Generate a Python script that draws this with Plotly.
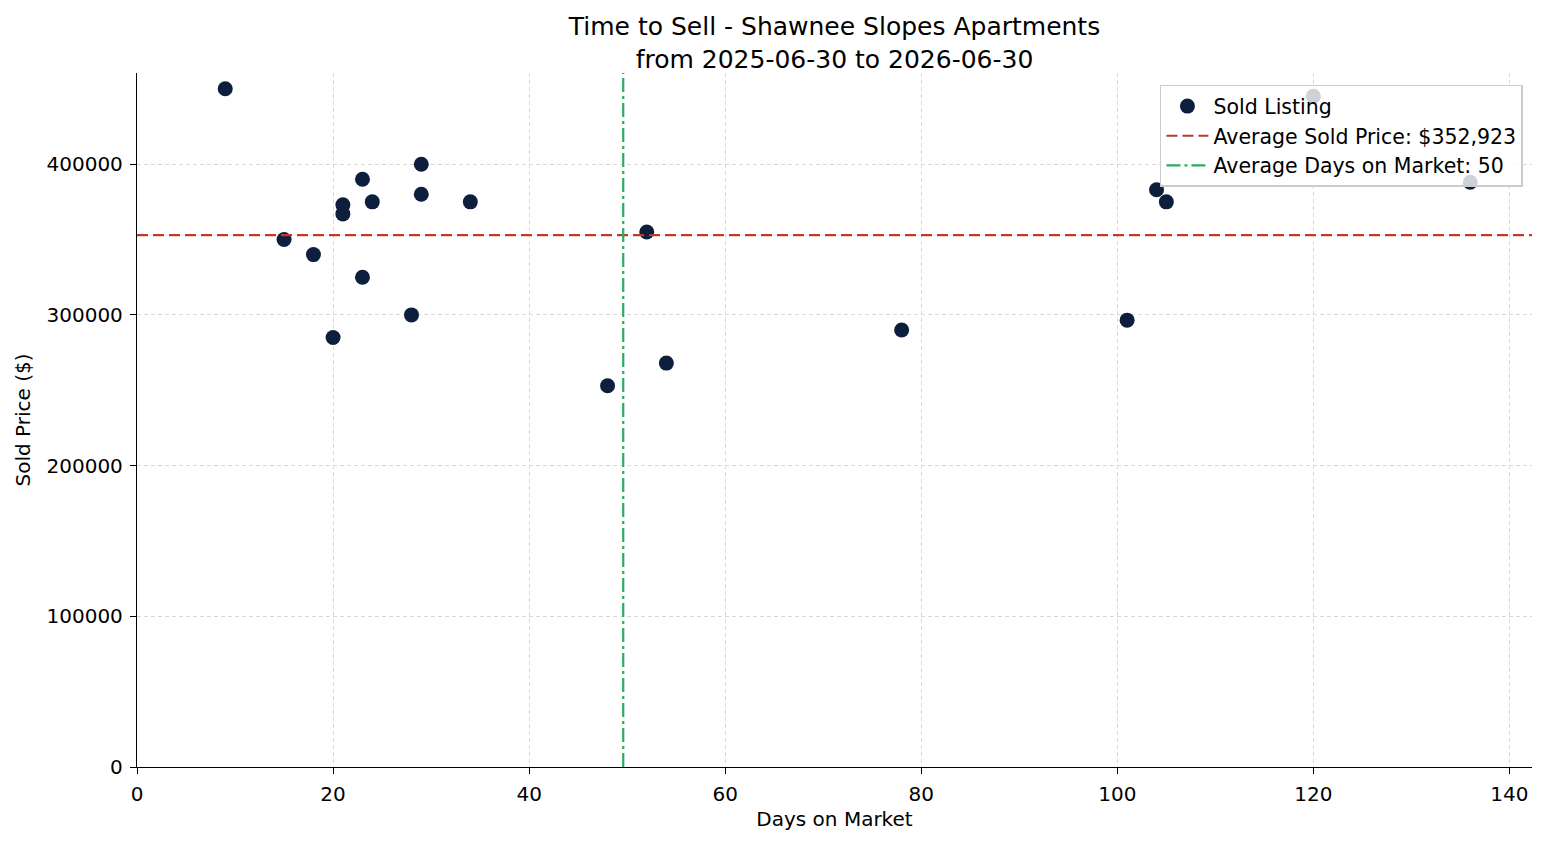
import plotly.graph_objects as go

days = [9, 15, 18, 20, 21, 21, 23, 23, 24, 28, 29, 29, 34, 48, 52, 54, 78, 101, 104, 105, 120, 136]
prices = [450000, 350000, 340000, 285000, 373000, 367000, 390000, 325000, 375000, 300000,
          400000, 380000, 375000, 253000, 355000, 268000, 290000, 296500, 383000, 375000,
          445000, 388000]
avg_price = 352923
avg_days = 49.6
x_range = [0, 142.3]
y_range = [0, 460500]
x_ticks = [0, 20, 40, 60, 80, 100, 120, 140]
y_ticks = [0, 100000, 200000, 300000, 400000]

title = "Time to Sell - Shawnee Slopes Apartments<br>from 2025-06-30 to 2026-06-30"
FONT = "DejaVu Sans"

fig = go.Figure()
fig.add_trace(go.Scatter(
    x=days, y=prices, mode="markers", name="Sold Listing",
    marker=dict(color="#0d1f3c", size=15, line=dict(width=0)),
))
fig.add_trace(go.Scatter(
    x=x_range, y=[avg_price, avg_price], mode="lines",
    name=f"Average Sold Price: ${avg_price:,}",
    line=dict(color="#c0392b", width=2.2, dash="11px,5px"),
))
fig.add_trace(go.Scatter(
    x=[avg_days, avg_days], y=y_range, mode="lines",
    name=f"Average Days on Market: {round(avg_days)}",
    line=dict(color="#27ae60", width=2.2, dash="14px,4px,3px,4px"),
))

axis_common = dict(
    showline=True, linecolor="black", linewidth=1.3,
    ticks="outside", ticklen=6, tickcolor="black", tickwidth=1.3,
    tickfont=dict(family=FONT, size=20, color="black"),
    showgrid=True, gridcolor="#d9d9d9", gridwidth=0.8, griddash="4px,3px",
    zeroline=False, mirror=False, ticklabelstandoff=3,
)

fig.update_layout(
    width=1547, height=845,
    margin=dict(l=137, r=15, t=73, b=78),
    paper_bgcolor="white", plot_bgcolor="white",
    font=dict(family=FONT, size=20, color="black"),
    title=dict(text=title, xref="paper", x=0.5, xanchor="center",
               yref="container", y=1 - 35 / 845, yanchor="middle",
               font=dict(family=FONT, size=25, color="black")),
    xaxis=dict(range=x_range, tickvals=x_ticks,
               title=dict(text="Days on Market", font=dict(family=FONT, size=20), standoff=6),
               **axis_common),
    yaxis=dict(range=y_range, tickvals=y_ticks,
               ticktext=[str(v) for v in y_ticks],
               title=dict(text="Sold Price ($)", font=dict(family=FONT, size=20), standoff=10),
               **axis_common),
    legend=dict(x=0.9935, y=0.983, xanchor="right", yanchor="top",
                bgcolor="rgba(255,255,255,0.8)", bordercolor="#cccccc", borderwidth=1.5,
                font=dict(family=FONT, size=20.5, color="black"),
                itemwidth=42),
    showlegend=True,
)

fig.write_html("out.html")
